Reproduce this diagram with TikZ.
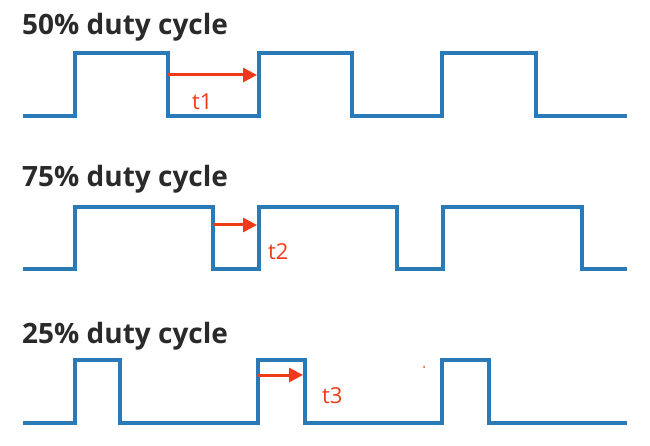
\documentclass[tikz,border=0pt]{standalone}
\usepackage{fontspec}
\setmainfont{Open Sans}
\usetikzlibrary{arrows.meta}
\definecolor{wave}{HTML}{2A7AB8}
\definecolor{arr}{HTML}{F03A17}
\definecolor{ttl}{HTML}{2A2A2A}
\begin{document}
\begin{tikzpicture}[x=1pt,y=-1pt,
  wavestyle/.style={draw=wave,line width=4pt,line join=miter},
  tarrow/.style={draw=arr,line width=3pt,-{Triangle[length=14pt,width=14pt]},shorten >=2pt},
  title/.style={anchor=base west,inner sep=0pt,text=ttl,font=\fontsize{28}{30}\selectfont\bfseries},
  tlabel/.style={anchor=base west,inner sep=0pt,text=arr,font=\fontsize{22}{24}\selectfont}]
\useasboundingbox (0,0) rectangle (650,446);
% row 1: 50%
\node[title] (h1) at (22,35) {50\% duty cycle};
\draw[wavestyle] (23,116) -- (75,116) -- (75,53) -- (168,53) -- (168,116) coordinate (a1)
  -- (259,116) -- (259,53) -- (352,53) -- (352,116) -- (442,116) -- (442,53) -- (536,53)
  -- (536,116) -- (627,116);
\coordinate (s1) at (168,75);
\coordinate (e1) at (259,75);
\draw[tarrow] (s1) -- (e1);
\node[tlabel] (t1) at (192,110) {t1};
% row 2: 75%
\node[title] (h2) at (22,187) {75\% duty cycle};
\draw[wavestyle] (23,269) -- (75,269) -- (75,207) -- (213,207) -- (213,269)
  -- (259,269) -- (259,207) -- (397,207) -- (397,269) -- (443,269) -- (443,207) -- (582,207)
  -- (582,269) -- (627,269);
\coordinate (s2) at (213,225);
\coordinate (e2) at (259,225);
\draw[tarrow] (s2) -- (e2);
\node[tlabel] (t2) at (268,260) {t2};
% row 3: 25%
\node[title] (h3) at (22,343) {25\% duty cycle};
\draw[wavestyle] (23,423) -- (75,423) -- (75,360) -- (120,360) -- (120,423)
  -- (258,423) -- (258,360) -- (305,360) -- (305,423) -- (442,423) -- (442,360) -- (489,360)
  -- (489,423) -- (627,423);
\coordinate (s3) at (258,375);
\coordinate (e3) at (305,375);
\draw[tarrow] (s3) -- (e3);
\node[tlabel] (t3) at (322,403) {t3};
\fill[arr] (424,367) circle (1pt);
\end{tikzpicture}
\end{document}
